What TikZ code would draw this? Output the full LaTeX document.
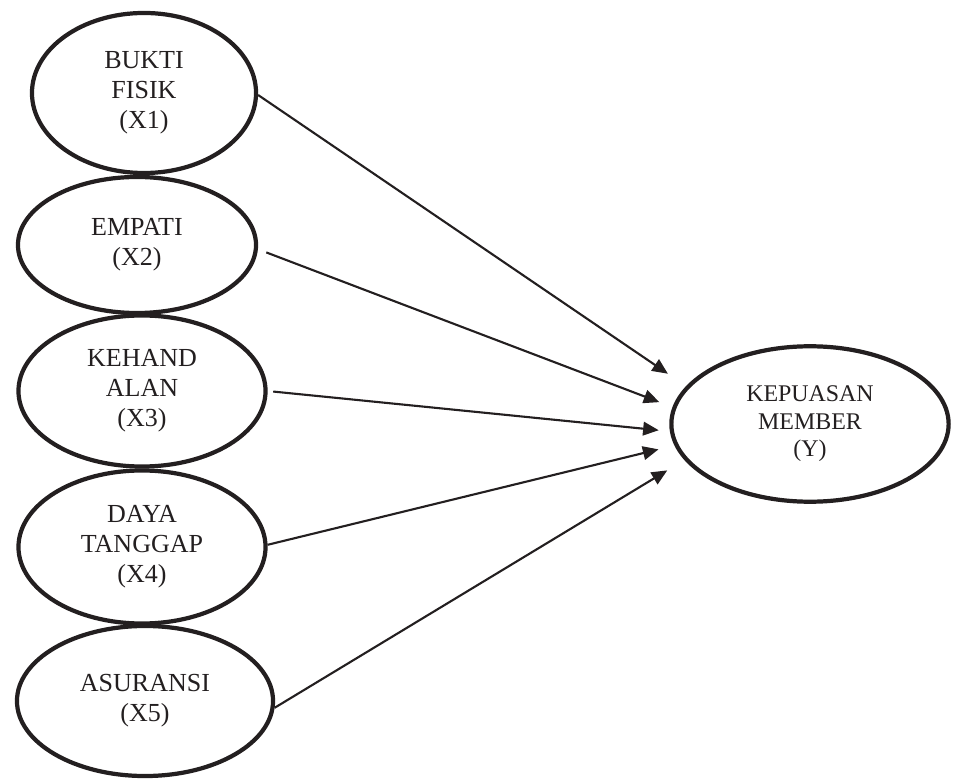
\documentclass[tikz,border=0pt]{standalone}
\usepackage{fontspec}
\setmainfont{Liberation Serif}
\usepackage{xcolor}
\usepackage{tikz}
\usetikzlibrary{shapes.geometric}
\usetikzlibrary{arrows.meta}
\definecolor{ink}{HTML}{231F20}

\begin{document}
\begin{tikzpicture}[x=0.025cm,y=-0.025cm,ink,
  var/.style={draw,ellipse,line width=3pt,inner sep=0pt,align=center,%
  font=\fontsize{18.5pt}{21.3pt}\selectfont},
  arr/.style={-{Triangle[length=0.39cm,width=0.34cm]},line width=1.5pt}]
\useasboundingbox (0,0) rectangle (954,780);

\node[var,minimum width=5.6cm,minimum height=4cm] (X1) at (144,93) {BUKTI\\FISIK\\(X1)};
\node[var,minimum width=5.95cm,minimum height=3.4cm] (X2) at (137,245) {EMPATI\\(X2)};
\node[var,minimum width=6.175cm,minimum height=3.775cm] (X3) at (142,391) {KEHAND\\ALAN\\(X3)};
\node[var,minimum width=6.175cm,minimum height=3.825cm] (X4) at (142,547) {DAYA\\TANGGAP\\(X4)};
\node[var,minimum width=6.4cm,minimum height=3.75cm] (X5) at (145,701) {ASURANSI\\(X5)};
\node[var,minimum width=6.93cm,minimum height=3.885cm,%
font=\fontsize{17pt}{19.6pt}\selectfont] (Y) at (810,424) {KEPUASAN\\MEMBER\\(Y)};

\draw[arr,shorten >=0.55cm] (X1.-1) -- (Y.163.4);
\draw[arr,shorten <=0.225cm,shorten >=0.35cm] (X2.-2.2) -- (Y.173.5);
\draw[arr,shorten <=0.14cm,shorten >=0.28cm] (X3.east) -- (Y.183.3);
\draw[arr,shorten >=0.41cm] (X4.1) -- (Y.189.3);
\draw[arr,shorten >=0.5cm] (X5.-3) -- (Y.196.9);

\end{tikzpicture}
\end{document}
